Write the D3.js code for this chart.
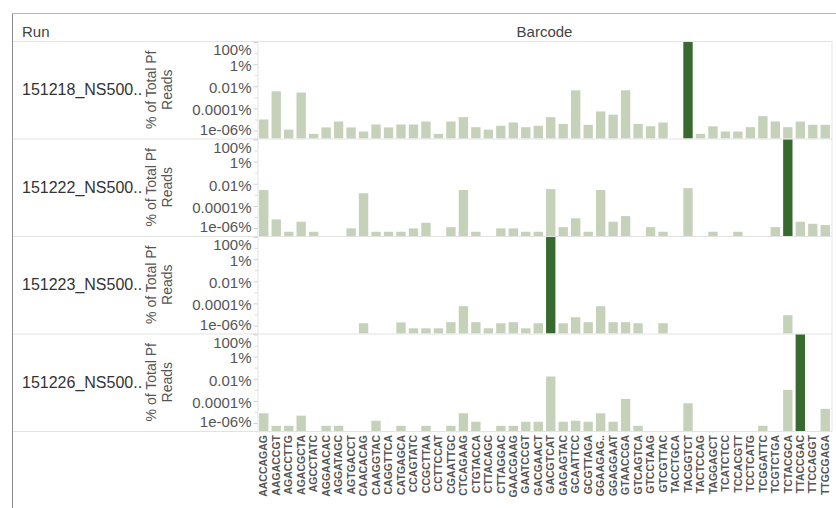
<!DOCTYPE html>
<html>
<head>
<meta charset="utf-8">
<script src="https://cdn.jsdelivr.net/npm/d3@7"></script>
<style>
  body { margin: 0; background: #fff; }
  text { font-family: "Liberation Sans", Arial, sans-serif; }
</style>
</head>
<body>
<div id="chart"></div>
<script>
// Barcodes along the bottom
var barcodes = ["AACCAGAG","AAGACCGT","AGACCTTG","AGACGCTA","AGCCTATC","AGGAACAC","AGGATAGC","AGTGACCT",
  "CAACACAG","CAAGGTAC","CAGGTTCA","CATGAGCA","CCAGTATC","CCGCTTAA","CCTTCCAT","CGAATTGC","CTCAGAAG",
  "CTGTACCA","CTTACAGC","CTTAGGAC","GAACGAAG","GAATCCGT","GACGAACT","GACGTCAT","GAGAGTAC","GCAATTCC",
  "GCGTTAGA","GGAAGAG..","GGAGGAAT","GTAACCGA","GTCAGTCA","GTCCTAAG","GTCGTTAC","TACCTGCA","TACGGTCT",
  "TACTCCAG","TAGGAGCT","TCATCTCC","TCCACGTT","TCCTCATG","TCGGATTC","TCGTCTGA","TCTACGCA","TTACCGAC",
  "TTCCAGGT","TTGCGAGA"];

var runs = ["151218_NS500..","151222_NS500..","151223_NS500..","151226_NS500.."];

// % of total Pf reads per barcode (null = no reads)
var run151218 = [1.0e-5,3.5e-3,1.2e-6,2.7e-3,5.0e-7,1.9e-6,6.5e-6,1.9e-6,8.1e-7,3.5e-6,1.9e-6,3.5e-6,3.5e-6,
  6.5e-6,5.0e-7,6.5e-6,1.6e-5,2.0e-6,1.2e-6,2.7e-6,5.3e-6,2.0e-6,2.7e-6,1.6e-5,4.0e-6,4.3e-3,3.3e-6,5.3e-5,
  2.7e-5,4.3e-3,4.0e-6,2.4e-6,5.3e-6,null,99.2,5.0e-7,2.4e-6,8.1e-7,8.1e-7,2.0e-6,2.0e-5,6.5e-6,2.0e-6,
  6.5e-6,3.3e-6,3.3e-6];
var run151222 = [2.7e-3,6.1e-6,4.6e-7,3.7e-6,4.6e-7,null,null,9.3e-7,1.4e-3,4.6e-7,4.6e-7,4.6e-7,9.3e-7,
  3.0e-6,null,1.2e-6,2.7e-3,4.6e-7,null,9.3e-7,9.3e-7,4.6e-7,4.6e-7,3.3e-3,1.2e-6,7.6e-6,4.6e-7,2.7e-3,
  3.7e-6,1.2e-5,null,1.2e-6,4.6e-7,null,4.0e-3,null,4.6e-7,null,4.6e-7,null,null,1.2e-6,99.1,3.7e-6,
  2.4e-6,1.9e-6];
var run151223 = [null,null,null,null,null,null,null,null,1.6e-6,null,null,1.9e-6,5.6e-7,5.6e-7,5.6e-7,
  2.0e-6,5.6e-5,2.0e-6,5.6e-7,1.6e-6,2.0e-6,5.6e-7,1.6e-6,99.3,1.6e-6,5.6e-6,2.0e-6,5.6e-5,2.0e-6,2.0e-6,
  1.6e-6,null,1.6e-6,null,null,null,null,null,null,null,null,null,8.6e-6,null,null,null];
var run151226 = [7.6e-6,5.6e-7,5.6e-7,4.6e-6,null,5.6e-7,5.6e-7,null,null,1.6e-6,null,5.6e-7,null,5.6e-7,
  null,5.6e-7,7.6e-6,1.3e-6,null,5.6e-7,5.6e-7,1.3e-6,1.3e-6,0.016,1.3e-6,1.6e-6,1.3e-6,7.6e-6,1.3e-6,
  1.5e-4,5.6e-7,null,null,null,6.1e-5,null,null,null,null,null,5.6e-7,null,1.0e-3,99.4,null,1.9e-5];
var runValues = [run151218, run151222, run151223, run151226];

// y axis ticks (percent)
var tickValues = [100, 1, 0.01, 0.0001, 0.000001];
var tickLabels = ["100%","1%","0.01%","0.0001%","1e-06%"];
var minorTicks = [10, 0.1, 0.001, 0.00001];

var W = 836, H = 508;
var top0 = 41, rowH = 97.5;
var lightGreen = "#c6d1b9", darkGreen = "#386a2f", lineGray = "#e3e3e3";

var svg = d3.select("#chart")
            .append("svg")
            .attr("width", W)
            .attr("height", H);

var x = d3.scaleBand()
          .domain(barcodes)
          .range([257.5, 831.5])
          .paddingInner(0.25)
          .paddingOuter(0.125);

var y = d3.scaleLog()
          .domain([1.9e-7, 123])
          .range([rowH, 0]);

// frame
svg.append("line").attr("x1", 12.5).attr("x2", 12.5).attr("y1", 13).attr("y2", H)
   .attr("stroke", "#8a8a8a");
svg.append("line").attr("x1", 12).attr("x2", W).attr("y1", 13.5).attr("y2", 13.5)
   .attr("stroke", "#b5b5b5");

// headers
svg.append("text").attr("x", 22).attr("y", 37).text("Run")
   .style("font-size", "15px").attr("fill", "#444");
svg.append("text").attr("x", (257.5 + 831.5) / 2).attr("y", 37).text("Barcode")
   .attr("text-anchor", "middle")
   .style("font-size", "15px").attr("fill", "#444");

// one row per run
var rows = svg.selectAll(".row")
              .data(runs)
              .enter()
              .append("g")
              .attr("class", "row")
              .attr("transform", function(d, i){ return "translate(0," + (top0 + i * rowH) + ")"; });

rows.append("line")
    .attr("x1", 13).attr("x2", 832).attr("y1", 0.5).attr("y2", 0.5)
    .attr("stroke", lineGray);

rows.append("text")
    .attr("x", 22)
    .attr("y", rowH / 2)
    .attr("dy", "0.35em")
    .text(function(d){ return d; })
    .style("font-size", "16px")
    .attr("fill", "#333");

// axis title
var title = rows.append("text")
    .attr("transform", "translate(151," + (rowH / 2) + ") rotate(-90)")
    .attr("text-anchor", "middle")
    .style("font-size", "14px")
    .attr("fill", "#555");
title.append("tspan").attr("x", 0).attr("dy", "0.35em").text("% of Total Pf");
title.append("tspan").attr("x", 0).attr("dy", "1.15em").text("Reads");

rows.each(function(d, i){
    var g = d3.select(this);

    var axis = g.append("g")
                .attr("transform", "translate(257.5,0)")
                .call(d3.axisLeft(y)
                        .tickValues(tickValues)
                        .tickFormat(function(t, k){ return tickLabels[k]; })
                        .tickSize(4)
                        .tickPadding(2));
    axis.select(".domain").attr("stroke", lineGray);
    axis.selectAll(".tick line").attr("stroke", "#cfcfcf");
    // keep the labels inside the pane, like the original
    axis.selectAll(".tick text")
        .attr("y", function(t){
            var p = Math.min(Math.max(y(t) + 1.5, 9), rowH - 9);
            return p - y(t);
        })
        .style("font-size", "15px")
        .style("font-family", "'Liberation Sans', Arial, sans-serif")
        .attr("fill", "#555");

    var minor = g.append("g")
                 .attr("transform", "translate(257.5,0)")
                 .call(d3.axisLeft(y).tickValues(minorTicks).tickFormat("").tickSize(3));
    minor.select(".domain").remove();
    minor.selectAll(".tick line").attr("stroke", "#dcdcdc");

    var vals = runValues[i];
    var maxVal = d3.max(vals);
    var data = barcodes.map(function(b, k){ return {barcode: b, value: vals[k]}; })
                       .filter(function(e){ return e.value != null; });

    g.selectAll(".bar")
     .data(data)
     .enter()
     .append("rect")
     .attr("class", "bar")
     .attr("x", function(e){ return x(e.barcode); })
     .attr("y", function(e){ return y(e.value); })
     .attr("width", x.bandwidth())
     .attr("height", function(e){ return rowH - y(e.value); })
     .attr("fill", function(e){ return e.value === maxVal ? darkGreen : lightGreen; });
});

// right and bottom pane borders
svg.append("line").attr("x1", 832).attr("x2", 832).attr("y1", top0).attr("y2", top0 + 4 * rowH)
   .attr("stroke", lineGray);
svg.append("line").attr("x1", 13).attr("x2", 832)
   .attr("y1", top0 + 4 * rowH + 0.5).attr("y2", top0 + 4 * rowH + 0.5)
   .attr("stroke", lineGray);

// barcode labels
svg.selectAll(".xlabel")
   .data(barcodes)
   .enter()
   .append("text")
   .attr("class", "xlabel")
   .attr("transform", function(d){
       return "translate(" + (x(d) + x.bandwidth() / 2) + "," + (top0 + 4 * rowH + 4) + ") rotate(-90)";
   })
   .attr("text-anchor", "end")
   .attr("dy", "0.35em")
   .text(function(d){ return d; })
   .style("font-size", "10.5px")
   .style("font-weight", "bold")
   .attr("fill", "#555");
</script>
</body>
</html>
